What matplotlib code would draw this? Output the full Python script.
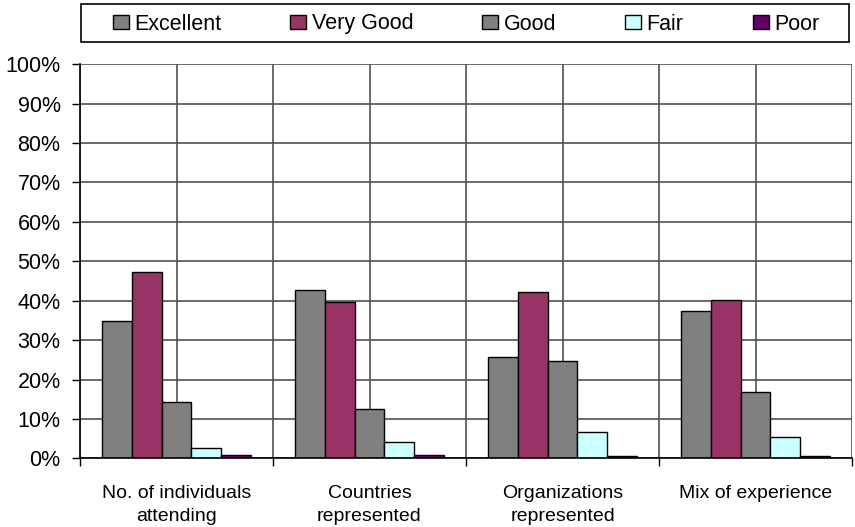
import numpy as np
import matplotlib
matplotlib.use('Agg')
from matplotlib import pyplot as plt
from matplotlib.patches import Rectangle
from matplotlib.ticker import FixedLocator, PercentFormatter

plt.rcParams['font.family'] = ['Liberation Sans', 'DejaVu Sans']

categories = ['No. of individuals\nattending', 'Countries\nrepresented',
              'Organizations\nrepresented', 'Mix of experience']
series = ['Excellent', 'Very Good', 'Good', 'Fair', 'Poor']
excellent = [34.9, 42.8, 25.7, 37.3]
very_good = [47.3, 39.7, 42.1, 40.3]
good = [14.2, 12.4, 24.7, 16.8]
fair = [2.6, 4.1, 6.7, 5.3]
poor = [0.9, 0.9, 0.5, 0.5]
values = [excellent, very_good, good, fair, poor]
colors = ['#808080', '#993366', '#808080', '#CCFFFF', '#660066']

W, H = 855, 527
fig = plt.figure(figsize=(W/100, H/100), dpi=100)
ax = fig.add_axes([80/W, 1-458.3/H, 772/W, (458.3-64.3)/H])

x = np.arange(len(categories))
w = 0.1534
for i in range(len(series)):
    ax.bar(x + (i-2)*w, values[i], w, color=colors[i], edgecolor='black',
           linewidth=1.0, label=series[i], zorder=3)

ax.set_xlim(-0.5, 3.5)
ax.set_ylim(0, 100)
ax.yaxis.set_major_locator(FixedLocator(np.arange(0, 101, 10)))
ax.yaxis.set_major_formatter(PercentFormatter(decimals=0))

# boundaries get the ticks, centres get the labels
ax.xaxis.set_major_locator(FixedLocator(np.arange(-0.5, 4, 1)))
ax.xaxis.set_minor_locator(FixedLocator(x))
ax.set_xticklabels([])
ax.set_xticklabels(categories, minor=True)
ax.tick_params(axis='x', which='major', length=6, width=1, direction='out')
ax.tick_params(axis='x', which='minor', length=0, pad=19, labelsize=14)
ax.tick_params(axis='y', length=6, width=1, direction='out', labelsize=15.5, pad=8)

ax.grid(True, which='both', axis='x', color='#505050', linewidth=1.2, zorder=0)
ax.grid(True, which='major', axis='y', color='#505050', linewidth=1.2, zorder=0)
ax.set_axisbelow(True)
for s in ['top', 'right']:
    ax.spines[s].set_visible(False)
for s in ['left', 'bottom']:
    ax.spines[s].set_color('black')
    ax.spines[s].set_linewidth(1.2)
    ax.spines[s].set_zorder(4)

# legend box drawn by hand, legend itself without frame
fig.patches.append(Rectangle((81/W, 1-42/H), 768/W, 38/H, transform=fig.transFigure,
                             facecolor='white', edgecolor='black', linewidth=1.2))
leg = fig.legend(loc='center', bbox_to_anchor=(466/W, 1-24/H), ncol=5,
                 fontsize=15.5, frameon=False, handlelength=0.75, handleheight=0.65,
                 handletextpad=0.25, columnspacing=3.2, borderpad=0, borderaxespad=0)

for t in ax.get_xticklabels(minor=True):
    t.set_linespacing(1.5)

fig.savefig('out.png', dpi=100)
